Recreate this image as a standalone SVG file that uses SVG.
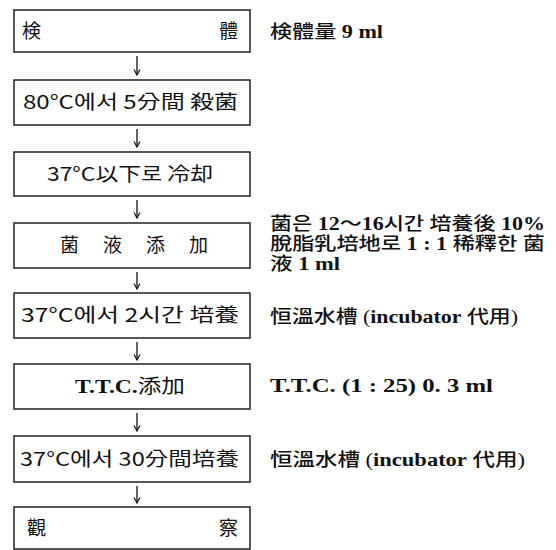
<svg xmlns="http://www.w3.org/2000/svg" width="556" height="550" viewBox="0 0 556 550">
<defs>
<style>
.box{fill:#fff;stroke:#111;stroke-width:1.4}
.bt{font-family:"Noto Sans CJK KR","Liberation Sans",sans-serif;font-size:19px;fill:#111}
.rt{font-family:"Liberation Serif","Noto Sans CJK KR",serif;font-size:18px;font-weight:500;fill:#111}
.b{font-weight:bold}
.ser{font-family:"Liberation Serif","Noto Sans CJK KR",serif;font-weight:bold}
.arr{stroke:#111;stroke-width:1.3;fill:none}
</style>
<marker id="ah" viewBox="0 0 8 8" refX="7.5" refY="4" markerWidth="8" markerHeight="8" markerUnits="userSpaceOnUse" orient="auto">
<path d="M2,1 L7.5,4 L2,7" fill="none" stroke="#111" stroke-width="1.2"/>
</marker>
</defs>
<rect width="556" height="550" fill="#fff"/>
<g id="connectors">
<line class="arr" x1="137" y1="56" x2="137" y2="75" marker-end="url(#ah)"/>
<line class="arr" x1="137" y1="129" x2="137" y2="147" marker-end="url(#ah)"/>
<line class="arr" x1="137" y1="200" x2="137" y2="218" marker-end="url(#ah)"/>
<line class="arr" x1="137" y1="272" x2="137" y2="289" marker-end="url(#ah)"/>
<line class="arr" x1="137" y1="342" x2="137" y2="360" marker-end="url(#ah)"/>
<line class="arr" x1="137" y1="413" x2="137" y2="431" marker-end="url(#ah)"/>
<line class="arr" x1="137" y1="486" x2="137" y2="503" marker-end="url(#ah)"/>
</g>
<g id="n1">
<rect class="box" x="14" y="10" width="236" height="42"/>
<text class="bt" x="22" y="38">検</text>
<text class="bt" x="219" y="38">體</text>
</g>
<g id="n2">
<rect class="box" x="14" y="80" width="236" height="45"/>
<text class="bt" x="23" y="109" textLength="215" lengthAdjust="spacingAndGlyphs">80°C에서 5分間 殺菌</text>
</g>
<g id="n3">
<rect class="box" x="14" y="152" width="236" height="44"/>
<text class="bt" x="47" y="181" textLength="166" lengthAdjust="spacingAndGlyphs">37°C以下로 冷却</text>
</g>
<g id="n4">
<rect class="box" x="14" y="223" width="236" height="45"/>
<text class="bt" x="60" y="252" textLength="148" lengthAdjust="spacing">菌 液 添 加</text>
</g>
<g id="n5">
<rect class="box" x="14" y="293" width="236" height="45"/>
<text class="bt" x="21" y="322" textLength="218" lengthAdjust="spacingAndGlyphs">37°C에서 2시간 培養</text>
</g>
<g id="n6">
<rect class="box" x="14" y="364" width="236" height="45"/>
<text class="bt" x="75" y="393" textLength="110" lengthAdjust="spacingAndGlyphs"><tspan class="ser">T.T.C.</tspan>添加</text>
</g>
<g id="n7">
<rect class="box" x="14" y="436" width="236" height="46"/>
<text class="bt" x="20" y="466" textLength="219" lengthAdjust="spacingAndGlyphs">37°C에서 30分間培養</text>
</g>
<g id="n8">
<rect class="box" x="14" y="507" width="236" height="42"/>
<text class="bt" x="27" y="535">觀</text>
<text class="bt" x="219" y="535">察</text>
</g>
<g id="notes">
<text class="rt" x="270" y="38" textLength="113" lengthAdjust="spacingAndGlyphs">検體量 <tspan class="b">9 ml</tspan></text>
<text class="rt" x="270" y="230" textLength="275" lengthAdjust="spacingAndGlyphs">菌은 <tspan class="b">12</tspan>〜<tspan class="b">16</tspan>시간 培養後 <tspan class="b">10%</tspan></text>
<text class="rt" x="270" y="250" textLength="275" lengthAdjust="spacingAndGlyphs">脫脂乳培地로 <tspan class="b">1 : 1</tspan> 稀釋한 菌</text>
<text class="rt" x="270" y="270" textLength="70" lengthAdjust="spacingAndGlyphs">液  <tspan class="b">1 ml</tspan></text>
<text class="rt" x="270" y="323" textLength="248" lengthAdjust="spacingAndGlyphs">恒溫水槽 (<tspan class="b">incubator</tspan> 代用)</text>
<text class="rt" x="270" y="392" textLength="223" lengthAdjust="spacingAndGlyphs"><tspan class="b">T.T.C. (1 : 25) 0. 3 ml</tspan></text>
<text class="rt" x="270" y="466" textLength="255" lengthAdjust="spacingAndGlyphs">恒溫水槽 (<tspan class="b">incubator</tspan> 代用)</text>
</g>
</svg>
